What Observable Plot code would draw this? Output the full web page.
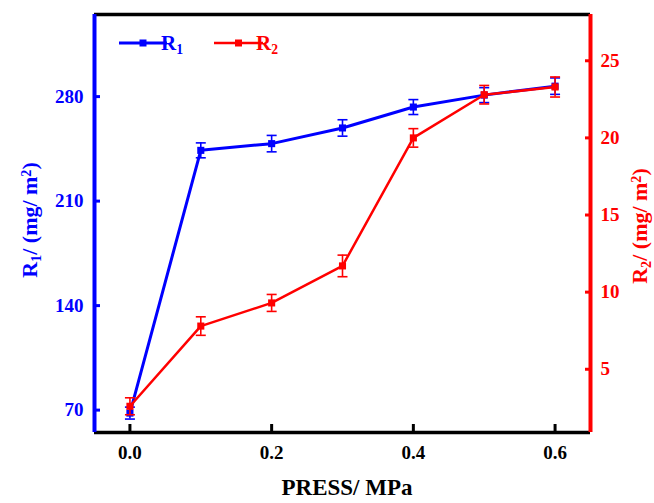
<!DOCTYPE html>
<html>
<head>
<meta charset="utf-8">
<script src="https://cdn.jsdelivr.net/npm/d3@7"></script>
<script src="https://cdn.jsdelivr.net/npm/@observablehq/plot@0.6"></script>
<style>
  body { margin: 0; background: #fff; }
  #chart svg { display: block; }
</style>
</head>
<body>
<div id="chart"></div>
<script>
// ---- data ----
const press = [0, 0.1, 0.2, 0.3, 0.4, 0.5, 0.6];
const r1 = [68, 244, 248.5, 259, 273, 281, 287];
const r1Err = [4, 5, 5.5, 5.5, 5, 5, 5.5];
const r2 = [2.6, 7.8, 9.3, 11.7, 20.0, 22.8, 23.3];
const r2Err = [0.55, 0.6, 0.55, 0.7, 0.6, 0.6, 0.65];
const xTicks = [0, 0.2, 0.4, 0.6];
const r1Ticks = [70, 140, 210, 280];
const r2Ticks = [5, 10, 15, 20, 25];
const xDomain = [-0.05, 0.65];
const y1Domain = [55, 335];
const y2Domain = [0.9, 28];

const BLUE = "#0000ff", RED = "#ff0000";
// map R2 values onto the R1 (left) scale
const toLeft = d3.scaleLinear().domain(y2Domain).range(y1Domain);

const rows = press.map((p, i) => ({
  p,
  r1: r1[i], r1lo: r1[i] - r1Err[i], r1hi: r1[i] + r1Err[i],
  r2: toLeft(r2[i]), r2lo: toLeft(r2[i] - r2Err[i]), r2hi: toLeft(r2[i] + r2Err[i])
}));

const cap = { draw(ctx, size) { const w = Math.sqrt(size / Math.PI); ctx.moveTo(-w, 0); ctx.lineTo(w, 0); } };

const W = 654, H = 503;
const chart = Plot.plot({
  width: W, height: H,
  marginLeft: 94, marginRight: 64, marginTop: 14, marginBottom: 71,
  style: { fontFamily: "'Liberation Serif', 'Times New Roman', serif", fontSize: "19px", fontWeight: "bold", background: "#fff" },
  x: { domain: xDomain },
  y: { domain: y1Domain },
  marks: [
    // series R1
    Plot.line(rows, { x: "p", y: "r1", stroke: BLUE, strokeWidth: 3 }),
    Plot.ruleX(rows, { x: "p", y1: "r1lo", y2: "r1hi", stroke: BLUE, strokeWidth: 1.6 }),
    Plot.dot(rows, { x: "p", y: "r1lo", symbol: cap, r: 5, stroke: BLUE, strokeWidth: 1.6 }),
    Plot.dot(rows, { x: "p", y: "r1hi", symbol: cap, r: 5, stroke: BLUE, strokeWidth: 1.6 }),
    Plot.dot(rows, { x: "p", y: "r1", symbol: "square", r: 4, fill: BLUE, stroke: "none" }),
    // series R2
    Plot.line(rows, { x: "p", y: "r2", stroke: RED, strokeWidth: 2.5 }),
    Plot.ruleX(rows, { x: "p", y1: "r2lo", y2: "r2hi", stroke: RED, strokeWidth: 1.6 }),
    Plot.dot(rows, { x: "p", y: "r2lo", symbol: cap, r: 5, stroke: RED, strokeWidth: 1.6 }),
    Plot.dot(rows, { x: "p", y: "r2hi", symbol: cap, r: 5, stroke: RED, strokeWidth: 1.6 }),
    Plot.dot(rows, { x: "p", y: "r2", symbol: "square", r: 4, fill: RED, stroke: "none" }),
    // frame lines
    Plot.ruleY([y1Domain[1]], { stroke: "#000", strokeWidth: 3.5 }),
    Plot.ruleY([y1Domain[0]], { stroke: "#000", strokeWidth: 3.5 }),
    Plot.ruleX([xDomain[0]], { stroke: BLUE, strokeWidth: 4 }),
    Plot.ruleX([xDomain[1]], { stroke: RED, strokeWidth: 4 }),
    // axes
    Plot.axisX({ ticks: xTicks, tickFormat: d3.format(".1f"), tickSize: -8, tickPadding: 21, strokeWidth: 3, color: "#000", label: null }),
    Plot.axisY({ anchor: "left", ticks: r1Ticks, tickSize: -6, tickPadding: 17, strokeWidth: 3, color: BLUE, label: null }),
    Plot.axisY({ anchor: "right", ticks: r2Ticks.map(v => toLeft(v)), tickFormat: d => String(Math.round(toLeft.invert(d))), tickSize: -6, tickPadding: 16, strokeWidth: 3, color: RED, label: null })
  ]
});
document.getElementById("chart").appendChild(chart);

// ---- axis titles and legend ----
const svg = d3.select(chart);
const FONT = "'Liberation Serif', 'Times New Roman', serif";
function richText(g, parts, size) {
  const t = g.append("text").attr("font-family", FONT).attr("font-weight", "bold").attr("font-size", size);
  parts.forEach(([s, kind]) => {
    const ts = t.append("tspan").text(s);
    if (kind === "sub") ts.attr("font-size", size * 0.65).attr("baseline-shift", "-25%");
    if (kind === "sup") ts.attr("font-size", size * 0.65).attr("baseline-shift", "45%");
  });
  return t;
}
// x title
richText(svg.append("g").attr("transform", "translate(347,495)"), [["PRESS/ MPa"]], 23)
  .attr("text-anchor", "middle").attr("fill", "#000");
// left title
richText(svg.append("g").attr("transform", "translate(37,220) rotate(-90)"),
  [["R"], ["1", "sub"], ["/ (mg/ m"], ["2", "sup"], [")"]], 22)
  .attr("text-anchor", "middle").attr("fill", BLUE);
// right title
richText(svg.append("g").attr("transform", "translate(647,226) rotate(-90)"),
  [["R"], ["2", "sub"], ["/ (mg/ m"], ["2", "sup"], [")"]], 22)
  .attr("text-anchor", "middle").attr("fill", RED);

// legend
const legend = [
  { name: "1", color: BLUE, x0: 119, x1: 167, tx: 172 },
  { name: "2", color: RED, x0: 214, x1: 263, tx: 267 }
];
const lg = svg.append("g").attr("class", "legend");
legend.forEach(d => {
  lg.append("line").attr("x1", d.x0).attr("x2", d.x1).attr("y1", 43).attr("y2", 43)
    .attr("stroke", d.color).attr("stroke-width", d.color === BLUE ? 3 : 2.5);
  lg.append("rect").attr("x", (d.x0 + d.x1) / 2 - 3.5).attr("y", 39.5).attr("width", 7).attr("height", 7).attr("fill", d.color);
  richText(lg.append("g").attr("transform", `translate(${d.tx},50)`), [["R"], [d.name, "sub"]], 21).attr("fill", d.color);
});
</script>
</body>
</html>
